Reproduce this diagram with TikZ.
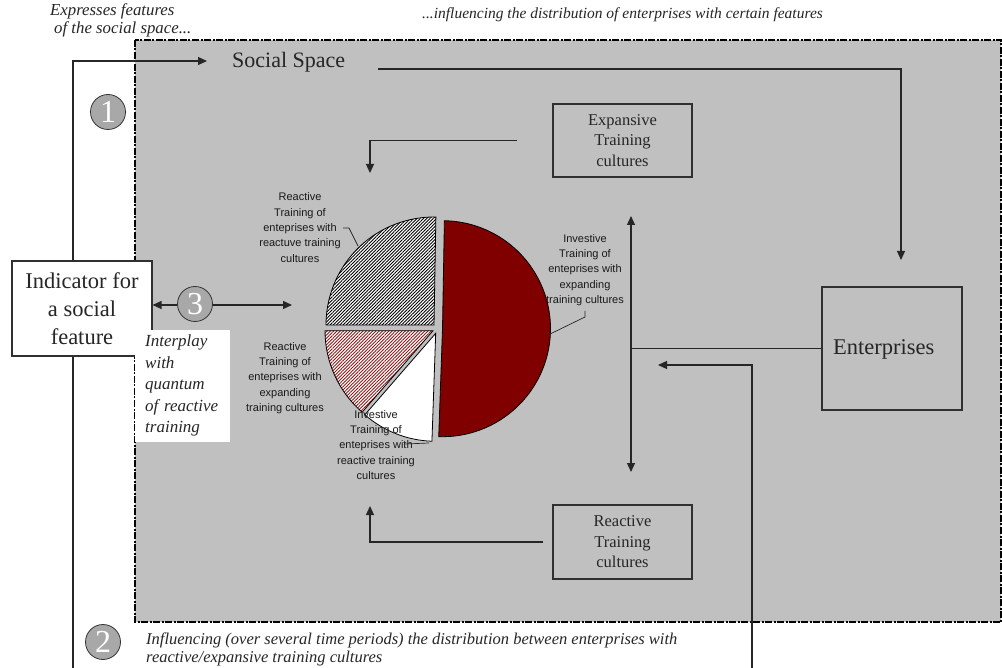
\documentclass[tikz,border=0pt]{standalone}
\usepackage{fontspec}
\setmainfont{Liberation Serif}
\newfontfamily\labelfont{Liberation Sans}
\usetikzlibrary{arrows.meta,patterns.meta}
\definecolor{spacegray}{HTML}{C0C0C0}
\definecolor{piered}{HTML}{800000}
\definecolor{circgray}{HTML}{A8A8A8}
\definecolor{inkline}{HTML}{303030}
\begin{document}
\begin{tikzpicture}[x=1pt,y=-1pt,
  box/.style={draw=inkline, line width=1.1pt, align=center, inner sep=0pt,
    font=\fontsize{16.5}{20.5}\selectfont, text=black!85},
  conn/.style={draw=black!85, line width=1.2pt},
  tip/.style={-{Triangle[length=9pt,width=8pt]}},
  bothtips/.style={{Triangle[length=9pt,width=8pt]}-{Triangle[length=9pt,width=8pt]}},
  numcirc/.style={circle, draw=black!80, fill=circgray, line width=0.8pt,
    minimum size=35pt, inner sep=0pt, text=white, font=\fontsize{32}{32}\selectfont},
  note/.style={font=\itshape\fontsize{15.5}{18}\selectfont, text=black!85, inner sep=0pt, align=left},
  pielabel/.style={font=\labelfont\fontsize{11}{15.3}\selectfont, align=center, inner sep=0pt, text=black!90},
  slice/.style={draw=black, line width=0.8pt},
  leader/.style={draw=black!85, line width=0.7pt}
]
\useasboundingbox (0,0) rectangle (1002,668);
\fill[white] (0,0) rectangle (1002,668);

% the social space
\path[fill=spacegray, draw=black, line width=1.6pt,
  dash pattern=on 7pt off 1.5pt on 2pt off 1.5pt] (135,40) rectangle (1001,622);

% headings outside the social space
\node[note, font=\itshape\fontsize{16.8}{18.5}\selectfont, anchor=north west] (expr) at (50,3)
  {Expresses features\\\hspace*{4pt}of the social space...};
\node[note, anchor=west] (infl) at (422,15) {...influencing the distribution of enterprises with certain features};

% social space title and the feedback loop from the indicator
\node[font=\fontsize{22}{22}\selectfont, anchor=west, inner sep=0pt, text=black!85] (ss) at (232,62) {Social Space};
\coordinate (loopbot) at (73,668);
\coordinate (looptop) at (73,61);
\coordinate (ssin) at (207,61);
\draw[conn, tip] (loopbot) -- (looptop) -- (ssin);

% enterprises
\node[draw=inkline, line width=1.1pt, minimum width=140pt, minimum height=123pt, inner sep=0pt] (ent) at (892,348.5) {};
\node[font=\fontsize{22.5}{22.5}\selectfont, anchor=west, inner sep=0pt, text=black!85] (entlabel) at (833,349) {Enterprises};
\coordinate (ssout) at (378,69);
\coordinate (entin) at (901,260);
\draw[conn, tip] (ssout) -| (entin);

% training culture boxes
\node[box, minimum width=139pt, minimum height=73pt] (exp) at (622.5,140.5) {Expansive\\Training\\cultures};
\node[box, minimum width=139pt, minimum height=74pt] (rea) at (622.5,542) {Reactive\\Training\\cultures};
\coordinate (expin) at (370,173);
\coordinate (reain) at (370,506);
\draw[conn, tip] ([xshift=-35pt]exp.west) -| (expin);
\draw[conn, tip] ([xshift=-9pt]rea.west) -| (reain);

% distribution axis
\coordinate (axtop) at (631,216);
\coordinate (axbot) at (631,472);
\draw[conn, bothtips] (axtop) -- (axbot);
\draw[conn] (ent.west) -- (ent.west -| axtop);
\coordinate (feedbot) at (752,668);
\coordinate (feedtip) at (658,365);
\draw[conn, tip] (feedbot) |- (feedtip);

% indicator and interplay
\node[box, fill=white, minimum width=140pt, minimum height=95pt,
  font=\fontsize{22.5}{28}\selectfont] (ind) at (82,308.5) {Indicator for\\a social\\feature};
\coordinate (interend) at (292,305);
\draw[conn, bothtips] (ind.east |- interend) -- (interend);
\node[fill=white, anchor=north west, inner xsep=10pt, inner ysep=5pt, text width=75pt,
  align=left, font=\itshape\fontsize{17}{21.5}\selectfont, text=black!85] (inter) at (135,330)
  {Interplay\\with\\quantum\\of reactive\\training};

% numbered markers
\node[numcirc] (n1) at (108,112) {1};
\node[numcirc] (n3) at (195,304) {3};
\node[numcirc] (n2) at (103,642) {2};

\node[note, font=\itshape\fontsize{16.5}{18}\selectfont, anchor=north west] (infl2) at (146,633)
  {Influencing (over several time periods) the distribution between enterprises with\\reactive/expansive training cultures};

% pie chart of training types (exploded slices)
\coordinate (pr) at (442.5,328.7);
\coordinate (pg) at (434,325);
\coordinate (ph) at (433,330.7);
\coordinate (pw) at (435.7,333.3);
\def\pr{108}
\filldraw[slice, fill=piered] (pr) -- ++(92:\pr) arc[start angle=92, end angle=-89, radius=\pr] -- cycle;
\fill[white] (pg) -- ++(-89:\pr) arc[start angle=-89, end angle=-180, radius=\pr] -- cycle;
\fill[pattern={Lines[angle=45,distance=2.3pt,line width=0.9pt]}, pattern color=black]
  (pg) -- ++(-89:\pr) arc[start angle=-89, end angle=-180, radius=\pr] -- cycle;
\draw[slice] (pg) -- ++(-89:\pr) arc[start angle=-89, end angle=-180, radius=\pr] -- cycle;
\fill[white] (ph) -- ++(-180:\pr) arc[start angle=-180, end angle=-229, radius=\pr] -- cycle;
\fill[pattern={Lines[angle=45,distance=2.3pt,line width=0.9pt]}, pattern color=piered!90]
  (ph) -- ++(-180:\pr) arc[start angle=-180, end angle=-229, radius=\pr] -- cycle;
\draw[slice] (ph) -- ++(-180:\pr) arc[start angle=-180, end angle=-229, radius=\pr] -- cycle;
\filldraw[slice, fill=white] (pw) -- ++(-229:\pr) arc[start angle=-229, end angle=-268, radius=\pr] -- cycle;

% slice labels
\node[pielabel] (lab1) at (300,227.5) {Reactive\\Training of\\enteprises with\\reactuve training\\cultures};
\node[pielabel] (lab2) at (285,378) {Reactive\\Training of\\enteprises with\\expanding\\training cultures};
\node[pielabel] (lab3) at (376,445) {Investive\\Training of\\enteprises with\\reactive training\\cultures};
\node[pielabel] (lab4) at (585,270) {Investive\\Training of\\enteprises with\\expanding\\training cultures};
\draw[leader] (343,228) -- (349,228) -- (358,246);
\draw[leader] (405,444) -- (429,443);
\draw[leader] (585,311) -- (585,317) -- (546,336);
\end{tikzpicture}
\end{document}
